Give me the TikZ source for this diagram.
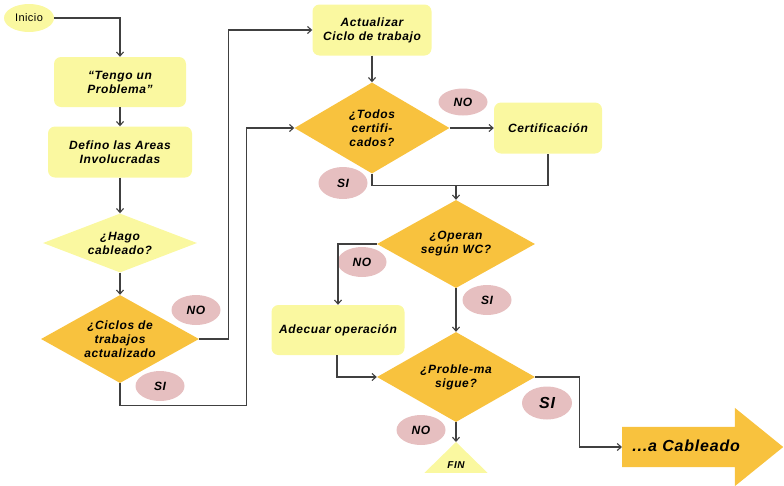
\documentclass[tikz,border=0pt]{standalone}
\usepackage{fontspec}
\setmainfont{Liberation Sans}
\usetikzlibrary{shapes.geometric,shapes.arrows,arrows.meta}
\definecolor{paleyellow}{HTML}{FAF8A0}
\definecolor{decisionorange}{HTML}{F8C23E}
\definecolor{answerpink}{HTML}{E6BFC0}
\definecolor{wire}{HTML}{404040}
\newcommand{\flowfont}[1]{\bfseries\itshape\fontsize{#1}{14}\selectfont\addfontfeature{LetterSpace=5}}
\begin{document}
\begin{tikzpicture}[x=1pt,y=-1pt,
  txt/.style={font=\flowfont{12}, align=center},
  stepbox/.style={txt, fill=paleyellow, rounded corners=7pt, inner sep=0pt},
  decision/.style={txt, diamond, fill=decisionorange, inner sep=0pt, shape aspect=1.8},
  answer/.style={txt, ellipse, fill=answerpink, inner sep=0pt, minimum width=49, minimum height=30},
  wireline/.style={draw=wire, line width=1.1pt},
  flow/.style={wireline, -{Straight Barb[length=4pt,width=7pt]}}
]
\useasboundingbox (0,0) rectangle (784,485);

% start terminal
\node[ellipse, fill=paleyellow, inner sep=0pt, minimum width=50, minimum height=28,
      font=\fontsize{11}{12}\selectfont\addfontfeature{LetterSpace=4}] (inicio) at (29,18) {Inicio};

% left column
\node[stepbox, minimum width=132, minimum height=50] (tengo) at (120,82) {“Tengo un\\Problema”};
\node[stepbox, minimum width=144, minimum height=51] (defino) at (120,152) {Defino las Areas\\Involucradas};
\node[decision, fill=paleyellow, shape aspect=2.5, minimum width=154, minimum height=59] (hago) at (120,243) {¿Hago\\cableado?};
\node[decision, minimum width=158, minimum height=88] (ciclos) at (120,339) {¿Ciclos de\\trabajos\\actualizado};

% middle and right
\node[stepbox, minimum width=119, minimum height=51] (actual) at (372,30) {Actualizar\\Ciclo de trabajo};
\node[decision, minimum width=155, minimum height=91] (todos) at (372,128) {¿Todos\\certifi-\\cados?};
\node[stepbox, minimum width=108, minimum height=51] (cert) at (548,128) {Certificación};
\node[decision, minimum width=158, minimum height=88] (operan) at (456,244) {¿Operan\\según WC?};
\node[stepbox, minimum width=133, minimum height=50] (adecuar) at (338,330) {Adecuar operación};
\node[decision, minimum width=158, minimum height=90] (proble) at (456,377) {¿Proble-ma\\sigue?};

% exit arrow
\node[single arrow, fill=decisionorange, anchor=west, inner sep=0pt,
      minimum height=161, minimum width=78, single arrow head extend=19,
      single arrow tip angle=78, text height=11, text depth=3, inner ysep=13,
      font=\flowfont{16}] (cableado) at (622,447) {\hspace*{-8pt}...a Cableado};

% end terminal
\coordinate (fintop) at (456,442);
\begin{scope}
  \clip (0,0) rectangle (784,472);
  \fill[paleyellow] (fintop) -- (501,486) -- (411,486) -- cycle;
\end{scope}
\node[font=\flowfont{10}, inner sep=0pt] (fin) at (456,465) {FIN};

% answer labels
\node[answer] (no1) at (196,310) {NO};
\node[answer] (si1) at (160,386) {SI};
\node[answer, minimum height=27] (no2) at (463,102) {NO};
\node[answer, minimum height=32] (si2) at (343,183) {SI};
\node[answer] (no3) at (362,262) {NO};
\node[answer] (si3) at (487,300) {SI};
\node[answer, minimum width=50, minimum height=33, font=\flowfont{16}] (si4) at (547,403) {SI};
\node[answer] (no4) at (421,430) {NO};

% connectors
\draw[flow] (inicio.east) -| (tengo.north);
\draw[flow] (tengo.south) -- (defino.north);
\draw[flow] (defino.south) -- (hago.north);
\draw[flow] (hago.south) -- (ciclos.north);
\draw[flow] (ciclos.east) -- ++(29,0) |- (actual.west);
\draw[flow] (ciclos.south) -- ++(0,22) -| ([xshift=-48pt]todos.west) |- (todos.west);
\draw[flow] (actual.south) -- (todos.north);
\draw[flow] (todos.east) -- (cert.west);
\draw[wireline] (todos.south) |- ([yshift=-32pt]cert.south) -- (cert.south);
\draw[flow] (operan.north |- 0,185) -- (operan.north);
\draw[flow] (operan.west) -| (adecuar.north);
\draw[flow] (operan.south) -- (proble.north);
\draw[flow] ([xshift=-1pt]adecuar.south) |- (proble.west);
\draw[flow] (proble.east) -| ([xshift=44pt]proble.east |- cableado.west) -- (cableado.west);
\draw[flow] (proble.south) -- (fintop);
\end{tikzpicture}
\end{document}
